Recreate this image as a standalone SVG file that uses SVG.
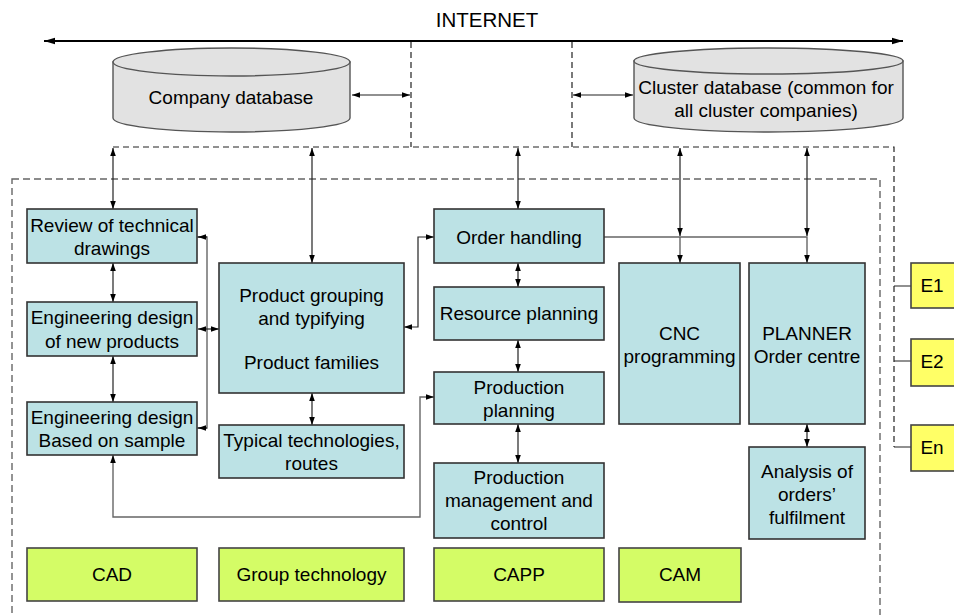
<svg xmlns="http://www.w3.org/2000/svg" width="954" height="615" viewBox="0 0 954 615">
<style>
text{font-family:"Liberation Sans",Arial,sans-serif;font-size:19px;fill:#000;text-anchor:middle}
.b{fill:#bce2e5;stroke:#333;stroke-width:1.6}
.g{fill:#d4fc66;stroke:#444;stroke-width:1.6}
.y{fill:#ffff66;stroke:#444;stroke-width:1.6}
.db{fill:#e2e2e2;stroke:#555;stroke-width:1.4}
.c{fill:none;stroke:#222;stroke-width:1.2}
.cg{fill:none;stroke:#666;stroke-width:1.4}
.d{fill:none;stroke:#222;stroke-width:1.2;stroke-dasharray:6 4}
.dg{fill:none;stroke:#666;stroke-width:1.4;stroke-dasharray:7 4}
</style>
<defs>
<marker id="a" viewBox="0 0 10 10" refX="10" refY="5" markerWidth="8" markerHeight="8" markerUnits="userSpaceOnUse" orient="auto-start-reverse"><path d="M0,1.5 L10,5 L0,8.5 z" fill="#000"/></marker>
<marker id="ab" viewBox="0 0 10 10" refX="10" refY="5" markerWidth="11" markerHeight="11" markerUnits="userSpaceOnUse" orient="auto-start-reverse"><path d="M0,2 L10,5 L0,8 z" fill="#000"/></marker>
</defs>

<text x="487" y="27" style="font-size:20.5px">INTERNET</text>

<g id="connectors">
<line x1="44" y1="41" x2="903" y2="41" stroke="#000" stroke-width="2" marker-start="url(#ab)" marker-end="url(#ab)"/>
<path class="d" d="M411,42 V147 M572,42 V147 M113,147 H894 V447"/>
<path class="c" d="M894,447 H911 M894,286 H911 M894,361 H911" stroke="#444"/>
<rect class="dg" x="12" y="179" width="868" height="460"/>
<line class="c" x1="352" y1="95" x2="410" y2="95" marker-start="url(#a)" marker-end="url(#a)"/>
<line class="c" x1="573" y1="95" x2="633" y2="95" marker-start="url(#a)" marker-end="url(#a)"/>
<line class="c" x1="113" y1="148" x2="113" y2="209" marker-start="url(#a)" marker-end="url(#a)"/>
<line class="c" x1="312" y1="148" x2="312" y2="263" marker-start="url(#a)" marker-end="url(#a)"/>
<line class="c" x1="518" y1="148" x2="518" y2="209" marker-start="url(#a)" marker-end="url(#a)"/>
<line class="c" x1="680" y1="148" x2="680" y2="236" marker-start="url(#a)" marker-end="url(#a)"/>
<line class="c" x1="807" y1="148" x2="807" y2="236" marker-start="url(#a)" marker-end="url(#a)"/>
<path class="cg" d="M604,237 H807 V263" marker-end="url(#a)"/>
<path class="cg" d="M680,237 V263" marker-end="url(#a)"/>
<line class="c" x1="113" y1="263" x2="113" y2="302" marker-start="url(#a)" marker-end="url(#a)"/>
<line class="c" x1="113" y1="356" x2="113" y2="402" marker-start="url(#a)" marker-end="url(#a)"/>
<path class="cg" d="M197,237 H207 V428 H197"/>
<line class="c" x1="198" y1="237" x2="207" y2="237" marker-start="url(#a)"/>
<line class="c" x1="198" y1="428" x2="207" y2="428" marker-start="url(#a)"/>
<line class="c" x1="198" y1="329" x2="219" y2="329" marker-start="url(#a)" marker-end="url(#a)"/>
<line class="c" x1="312" y1="393" x2="312" y2="425" marker-start="url(#a)" marker-end="url(#a)"/>
<path class="c" d="M404,327 H418 V237 H434" marker-start="url(#a)" marker-end="url(#a)"/>
<path class="cg" d="M113,455 V517 H420 V397 H434" marker-start="url(#a)" marker-end="url(#a)"/>
<line class="c" x1="518" y1="263" x2="518" y2="287" marker-start="url(#a)" marker-end="url(#a)"/>
<line class="c" x1="518" y1="340" x2="518" y2="372" marker-start="url(#a)" marker-end="url(#a)"/>
<line class="c" x1="518" y1="424" x2="518" y2="463" marker-start="url(#a)" marker-end="url(#a)"/>
<line class="c" x1="807" y1="424" x2="807" y2="447" marker-start="url(#a)" marker-end="url(#a)"/>
</g>

<g id="company-db">
<path class="db" d="M113,62 V118 A118.5,14 0 0 0 350,118 V62 Z"/>
<ellipse class="db" cx="231.5" cy="62" rx="118.5" ry="14"/>
<text x="231" y="104">Company database</text>
</g>
<g id="cluster-db">
<path class="db" d="M634,61 V118 A134.5,14 0 0 0 903,118 V61 Z"/>
<ellipse class="db" cx="768.5" cy="61" rx="134.5" ry="13"/>
<text x="766" y="94">Cluster database (common for</text>
<text x="766" y="117">all cluster companies)</text>
</g>

<g id="review"><rect class="b" x="27" y="209" width="170" height="54"/><text x="112" y="232">Review of technical</text><text x="112" y="255">drawings</text></g>
<g id="eng-new"><rect class="b" x="27" y="302" width="170" height="54"/><text x="112" y="324">Engineering design</text><text x="112" y="348">of new products</text></g>
<g id="eng-sample"><rect class="b" x="27" y="402" width="170" height="53"/><text x="112" y="424">Engineering design</text><text x="112" y="447">Based on sample</text></g>
<g id="product-grouping"><rect class="b" x="219" y="263" width="185" height="130"/><text x="311.5" y="302">Product grouping</text><text x="311.5" y="325">and typifying</text><text x="311.5" y="369">Product families</text></g>
<g id="typical"><rect class="b" x="219" y="425" width="185" height="53"/><text x="311.5" y="447">Typical technologies,</text><text x="311.5" y="470">routes</text></g>
<g id="order-handling"><rect class="b" x="434" y="209" width="170" height="54"/><text x="519" y="244">Order handling</text></g>
<g id="resource-planning"><rect class="b" x="434" y="287" width="170" height="53"/><text x="519" y="320">Resource planning</text></g>
<g id="production-planning"><rect class="b" x="434" y="372" width="170" height="52"/><text x="519" y="394">Production</text><text x="519" y="417">planning</text></g>
<g id="production-mgmt"><rect class="b" x="434" y="463" width="170" height="75"/><text x="519" y="484">Production</text><text x="519" y="507">management and</text><text x="519" y="530">control</text></g>
<g id="cnc"><rect class="b" x="619" y="263" width="121" height="161"/><text x="679.5" y="340">CNC</text><text x="679.5" y="363">programming</text></g>
<g id="planner"><rect class="b" x="749" y="263" width="116" height="161"/><text x="807" y="340">PLANNER</text><text x="807" y="363">Order centre</text></g>
<g id="analysis"><rect class="b" x="749" y="447" width="116" height="92"/><text x="807" y="478">Analysis of</text><text x="807" y="501">orders’</text><text x="807" y="524">fulfilment</text></g>
<g id="cad"><rect class="g" x="27" y="548" width="170" height="53"/><text x="112" y="581">CAD</text></g>
<g id="group-tech"><rect class="g" x="219" y="548" width="185" height="53"/><text x="311.5" y="581">Group technology</text></g>
<g id="capp"><rect class="g" x="434" y="548" width="170" height="53"/><text x="519" y="581">CAPP</text></g>
<g id="cam"><rect class="g" x="619" y="548" width="122" height="54"/><text x="680" y="581">CAM</text></g>
<g id="e1"><rect class="y" x="911" y="263" width="50" height="45"/><text x="932" y="292">E1</text></g>
<g id="e2"><rect class="y" x="911" y="339" width="50" height="47"/><text x="932" y="368">E2</text></g>
<g id="en"><rect class="y" x="911" y="425" width="50" height="46"/><text x="932" y="454">En</text></g>
</svg>
